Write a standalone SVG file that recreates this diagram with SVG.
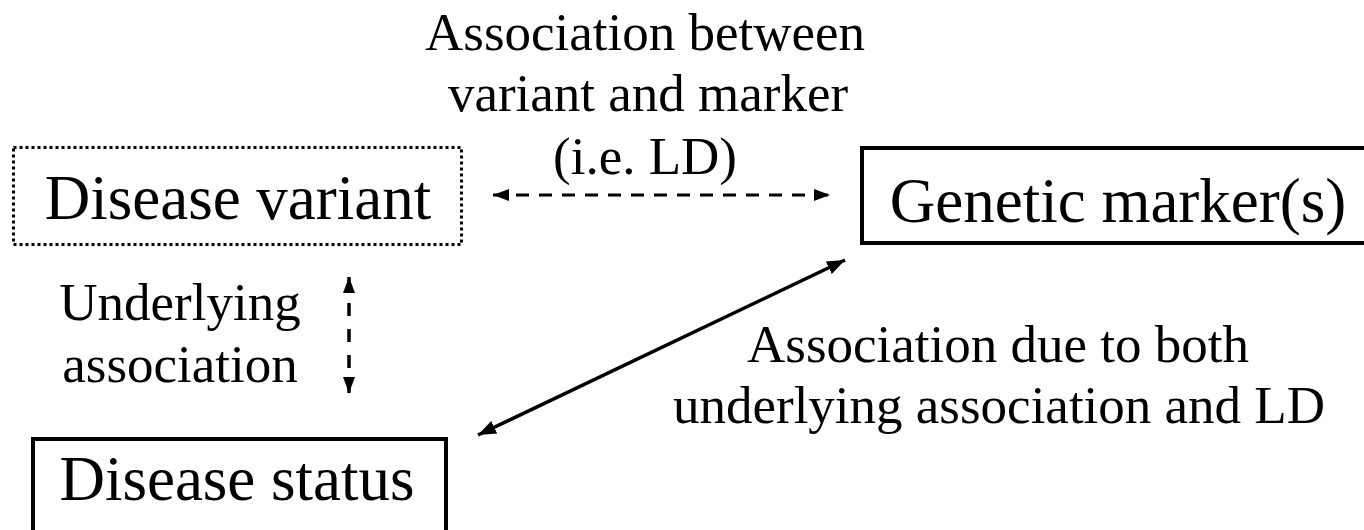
<svg xmlns="http://www.w3.org/2000/svg" width="1364" height="530" viewBox="0 0 1364 530">
  <style>
    text { font-family: "Liberation Serif", "Times New Roman", serif; fill: #000; }
    .node { font-size: 63px; text-anchor: middle; }
    .title { font-size: 53px; text-anchor: middle; }
    .label { font-size: 53px; text-anchor: middle; }
    .box { fill: #fff; stroke: #000; stroke-width: 4; }
    .dotted { fill: #fff; stroke: #000; stroke-width: 3; stroke-dasharray: 3 3; }
    .conn { fill: none; stroke: #000; }
  </style>
  <defs>
    <marker id="head" viewBox="0 0 16 12" refX="16" refY="6" markerWidth="16" markerHeight="12" markerUnits="userSpaceOnUse" orient="auto-start-reverse">
      <path d="M0,0 L16,6 L0,12 z" fill="#000"/>
    </marker>
    <marker id="headBig" viewBox="0 0 18 14" refX="18" refY="7" markerWidth="18" markerHeight="14" markerUnits="userSpaceOnUse" orient="auto-start-reverse">
      <path d="M0,0 L18,7 L0,14 z" fill="#000"/>
    </marker>
  </defs>
  <rect width="1364" height="530" fill="#fff"/>

  <!-- heading above the LD link -->
  <g id="ld-caption">
    <text class="title" x="645" y="50" textLength="440" lengthAdjust="spacingAndGlyphs">Association between</text>
    <text class="title" x="648" y="111">variant and marker</text>
    <text class="title" x="645" y="174">(i.e. LD)</text>
  </g>

  <g id="disease-variant">
    <rect class="dotted" x="13.5" y="147.5" width="448" height="97"/>
    <text class="node" x="238" y="219">Disease variant</text>
  </g>

  <g id="genetic-marker">
    <rect class="box" x="862" y="148" width="520" height="95"/>
    <text class="node" x="1118" y="222">Genetic marker(s)</text>
  </g>

  <g id="disease-status">
    <rect class="box" x="33" y="439" width="413" height="110"/>
    <text class="node" x="237" y="500">Disease status</text>
  </g>

  <g id="underlying-label">
    <text class="label" x="180" y="320">Underlying</text>
    <text class="label" x="180" y="382">association</text>
  </g>

  <g id="both-label">
    <text class="label" x="998" y="362">Association due to both</text>
    <text class="label" x="999" y="423">underlying association and LD</text>
  </g>

  <g id="connectors">
    <!-- variant <-> marker (LD) -->
    <line class="conn" x1="493" y1="195" x2="830" y2="195" stroke-width="3" stroke-dasharray="13 10" marker-start="url(#head)" marker-end="url(#head)"/>
    <!-- variant <-> status (underlying association) -->
    <line class="conn" x1="349" y1="277" x2="349" y2="393" stroke-width="3.5" stroke-dasharray="13 13" marker-start="url(#head)" marker-end="url(#head)"/>
    <!-- status <-> marker (observed association) -->
    <line class="conn" x1="478" y1="435" x2="845" y2="260" stroke-width="3.5" marker-start="url(#headBig)" marker-end="url(#headBig)"/>
  </g>
</svg>
